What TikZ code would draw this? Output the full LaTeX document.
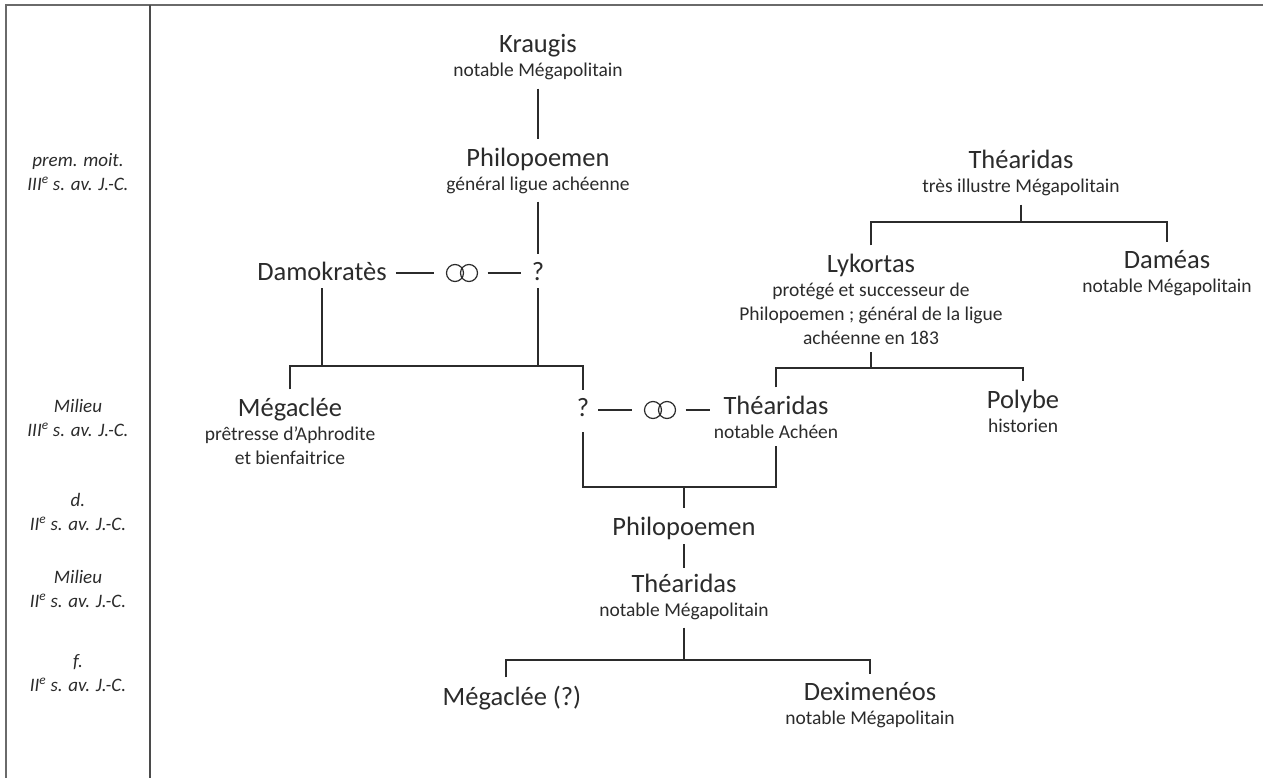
\documentclass[tikz,border=0pt]{standalone}
\usepackage{fontspec}
\setmainfont{Carlito}
\usetikzlibrary{positioning}
\definecolor{ink}{HTML}{2B2B2B}
\definecolor{rulegray}{HTML}{6A6A6A}
\newcommand{\nm}[1]{{\fontsize{26.5}{30}\selectfont #1}}

\begin{document}
\begin{tikzpicture}[x=1pt,y=-1pt,
  person/.style={align=center,anchor=base,inner xsep=0pt,inner ysep=8pt,text=ink,
    font=\fontsize{19.5}{24}\selectfont},
  era/.style={align=center,anchor=base,inner sep=0pt,text=ink,
    font=\fontsize{19}{24}\selectfont\itshape},
  link/.style={draw=ink,line width=1.2pt},
  tie/.style={link,shorten <=9pt,shorten >=11pt},
  rings/.style={minimum width=33pt,minimum height=17pt,inner sep=0pt},
  frame/.style={draw=rulegray,line width=1.3pt}]
  \useasboundingbox (0,0) rectangle (1263,778);

  % frame and time column
  \draw[frame] (6,778) -- (6,5) -- (1263,5);
  \draw[frame,draw=ink!85,line width=2pt] (150,5) -- (150,778);

  % (nodes sit on the baseline of their last line)
  \node[era] (eraA) at (78,190) {prem. moit.\\III\textsuperscript{e} s. av. J.-C.};
  \node[era] (eraB) at (78,436) {Milieu\\III\textsuperscript{e} s. av. J.-C.};
  \node[era] (eraC) at (78,530) {d.\\II\textsuperscript{e} s. av. J.-C.};
  \node[era] (eraD) at (78,607) {Milieu\\II\textsuperscript{e} s. av. J.-C.};
  \node[era] (eraE) at (78,691) {f.\\II\textsuperscript{e} s. av. J.-C.};

  % people
  \node[person] (kraugis) at (538,77) {\nm{Kraugis}\\notable Mégapolitain};
  \node[person] (philoA) at (538,190) {\nm{Philopoemen}\\général ligue achéenne};
  \node[person] (damokrates) at (322,280) {\nm{Damokratès}};
  \node[person] (qA) at (538,280) {\nm{?}};
  \node[rings] (ringsA) at (462,273) {};

  \node[person] (thearidasR) at (1021,193) {\nm{Théaridas}\\très illustre Mégapolitain};
  \node[person] (lykortas) at (871,344) {\nm{Lykortas}\\protégé et successeur de\\Philopoemen ; général de la ligue\\achéenne en 183};
  \node[person] (dameas) at (1167,292) {\nm{Daméas}\\notable Mégapolitain};

  \node[person] (megaclee) at (290,464) {\nm{Mégaclée}\\prêtresse d’Aphrodite\\et bienfaitrice};
  \node[person] (qB) at (583,416) {\nm{?}};
  \node[rings] (ringsB) at (660,410) {};
  \node[person] (thearidasM) at (776,438) {\nm{Théaridas}\\notable Achéen};
  \node[person] (polybe) at (1023,432) {\nm{Polybe}\\historien};

  \node[person] (philoB) at (684,535) {\nm{Philopoemen}};
  \node[person] (thearidasB) at (684,616) {\nm{Théaridas}\\notable Mégapolitain};
  \node[person] (megacleeQ) at (512,705) {\nm{Mégaclée (?)}};
  \node[person] (deximeneos) at (870,724) {\nm{Deximenéos}\\notable Mégapolitain};

  % marriages
  \foreach \r in {ringsA,ringsB}
    \draw[link] ([xshift=-7pt]\r.center) circle[radius=8.5pt]
                ([xshift=7pt]\r.center) circle[radius=8.5pt];
  \draw[tie] (damokrates.east |- ringsA) -- (ringsA.west);
  \draw[tie] (ringsA.east) -- (qA.west |- ringsA);
  \draw[tie] (qB.east |- ringsB) -- (ringsB.west);
  \draw[tie,shorten >=4pt] (ringsB.east) -- (thearidasM.west |- ringsB);

  % descent
  \coordinate (jA) at (437,366);
  \coordinate (jB) at (684,487);
  \coordinate (jC) at (1021,222);
  \coordinate (jD) at (871,368);
  \coordinate (jE) at (684,660);

  \draw[link] (kraugis) -- (philoA);
  \draw[link] (philoA) -- (qA);
  \draw[link] (damokrates.south) -- (damokrates.south |- jA);
  \draw[link] (qA.south) -- (qA.south |- jA);
  \draw[link] (megaclee.north) |- (jA) -| (qB.north);

  \draw[link,shorten <=8pt] (qB.south) |- (jB) -| (thearidasM.south);
  \draw[link] (jB) -- (philoB.north);

  \draw[link] (thearidasR.south) -- (jC);
  \draw[link] (lykortas.north) |- (jC) -| (dameas.north);
  \draw[link] (lykortas.south) -- (jD);
  \draw[link] (thearidasM.north) |- (jD) -| (polybe.north);

  \draw[link,shorten <=-3pt,shorten >=-3pt] (philoB) -- (thearidasB);
  \draw[link] (thearidasB.south) -- (jE);
  \draw[link] ([xshift=-6pt]megacleeQ.north) |- (jE) -| (deximeneos.north);
\end{tikzpicture}
\end{document}
